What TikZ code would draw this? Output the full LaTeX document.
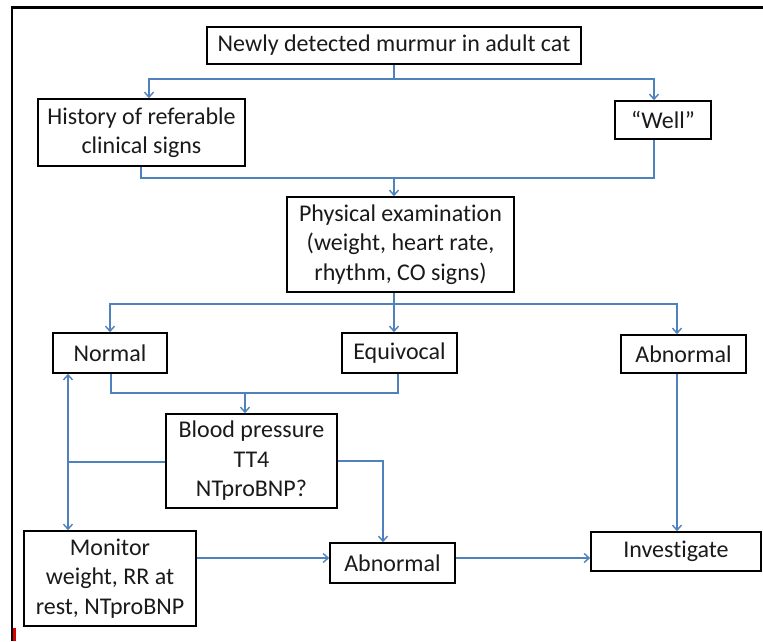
\documentclass[tikz,border=0pt]{standalone}
\usepackage{fontspec}
\setmainfont[Ligatures=CommonOff]{Carlito}
\usetikzlibrary{arrows.meta}
\definecolor{lineblue}{HTML}{4F81BD}
\definecolor{txt}{HTML}{1A1A1A}
\tikzset{
  box/.style={draw=black, line width=1.6pt, inner sep=0pt, align=center, text=txt,
    font=\fontsize{24}{29.5}\selectfont},
  arr/.style={draw=lineblue, line width=1.6pt, -{Straight Barb[length=5pt,width=9pt,line width=1.4pt]}},
  ln/.style={draw=lineblue, line width=1.6pt},
}
\begin{document}
\begin{tikzpicture}[x=1pt,y=-1pt]
\useasboundingbox (0,0) rectangle (763,641);
% frame
\draw[line width=2.5pt, black] (12,641) -- (12,7.3) -- (763,7.3);
\draw[line width=3pt, red!85!black] (14.5,628) -- (14.5,641);
% nodes
\node[box, minimum width=374pt, minimum height=37pt] (top) at (394,45.5) {Newly detected murmur in adult cat};
\node[box, minimum width=207pt, minimum height=67pt] (hist) at (141.5,132.5) {History of referable\\clinical signs};
\node[box, minimum width=96pt, minimum height=38pt] (well) at (663,120) {“Well”};
\node[box, minimum width=227pt, minimum height=95pt] (phys) at (400.5,244.5) {Physical examination\\(weight, heart rate,\\rhythm, CO signs)};
\node[box, minimum width=114pt, minimum height=40pt] (normal) at (110,353) {Normal};
\node[box, minimum width=115pt, minimum height=40pt] (equiv) at (399.5,353) {Equivocal};
\node[box, minimum width=125pt, minimum height=38pt] (abn1) at (683.5,354) {Abnormal};
\node[box, minimum width=171pt, minimum height=94pt] (bp) at (251.5,461) {Blood pressure\\TT4\\NTproBNP?};
\node[box, minimum width=172pt, minimum height=95pt] (mon) at (110,578.5) {Monitor\\weight, RR at\\rest, NTproBNP};
\node[box, minimum width=125pt, minimum height=40pt] (abn2) at (392.5,563) {Abnormal};
\node[box, minimum width=170pt, minimum height=39pt] (inv) at (676,551.5) {Investigate};
% coordinates
\coordinate (s1) at (394,79);
\coordinate (m1) at (394,178);
\coordinate (s2) at (394,304);
\coordinate (m2) at (245,393);
\coordinate (lj) at (68,462);
% connectors
\draw[ln] (top.south) -- (s1);
\draw[arr] (s1) -| ([xshift=7.5pt]hist.north);
\draw[arr] (s1) -| ([xshift=-9pt]well.north);
\draw[ln] ([xshift=-0.5pt]hist.south) |- (m1);
\draw[ln] ([xshift=-9pt]well.south) |- (m1);
\draw[arr] (m1) -- ([xshift=-6.5pt]phys.north);
\draw[ln] ([xshift=-6.5pt]phys.south) -- (s2);
\draw[arr] (s2) -| (normal.north);
\draw[arr] (s2) -- ([xshift=-5.5pt]equiv.north);
\draw[arr] (s2) -| ([xshift=-6.5pt]abn1.north);
\draw[ln] ([xshift=1pt]normal.south) |- (m2);
\draw[ln] ([xshift=-1.5pt]equiv.south) |- (m2);
\draw[arr] (m2) -- ([xshift=-6.5pt]bp.north);
\draw[ln] ([yshift=-1pt]bp.west) -- (lj);
\draw[arr] (lj) -- (normal.south -| lj);
\draw[arr] (lj) -- (mon.north -| lj);
\draw[arr] (bp.east) -| ([xshift=-9.5pt]abn2.north);
\draw[arr] ([yshift=20.5pt]mon.east) -- ([yshift=5pt]abn2.west);
\draw[arr] ([yshift=5pt]abn2.east) -- ([yshift=-6.5pt]inv.west);
\draw[arr] ([xshift=-6.5pt]abn1.south) -- ([xshift=1pt]inv.north);
\end{tikzpicture}
\end{document}
